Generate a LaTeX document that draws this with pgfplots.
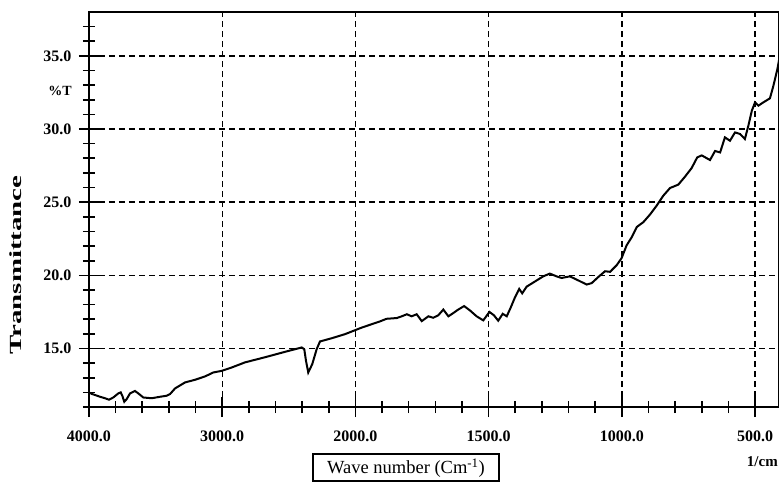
\documentclass[border=0pt]{standalone}
\usepackage{fontspec}
\setmainfont{Liberation Serif}
\usepackage{graphicx}
\usepackage{pgfplots}
\pgfplotsset{compat=1.18}
\usepackage{pgfplotstable}

\pgfplotstableread{
wn t
4000 12.0
3980 11.9
3917 11.7
3880 11.6
3850 11.5
3818 11.65
3780 11.93
3762 12.0
3750 11.77
3735 11.36
3717 11.54
3692 11.93
3655 12.1
3630 11.93
3592 11.65
3529 11.6
3467 11.7
3417 11.77
3392 11.88
3354 12.27
3279 12.68
3204 12.86
3129 13.09
3067 13.36
3004 13.47
2929 13.7
2829 14.05
2679 14.4
2529 14.77
2403 15.07
2384 14.95
2371 14.16
2354 13.36
2324 13.93
2291 14.95
2266 15.48
2178 15.7
2078 15.98
1976 16.43
1908 16.85
1883 17.03
1845 17.08
1826 17.2
1807 17.34
1789 17.2
1770 17.34
1751 16.87
1726 17.2
1708 17.1
1689 17.27
1670 17.66
1651 17.2
1632 17.43
1614 17.66
1592 17.9
1570 17.6
1545 17.2
1520 16.92
1497 17.5
1480 17.27
1464 16.9
1447 17.37
1432 17.2
1417 17.8
1401 18.5
1385 19.07
1374 18.77
1357 19.23
1326 19.58
1295 19.93
1270 20.12
1245 19.93
1226 19.82
1195 19.93
1163 19.65
1132 19.37
1113 19.47
1088 19.89
1063 20.28
1044 20.24
1019 20.7
1001 21.17
982 22.05
963 22.6
944 23.3
919 23.64
894 24.16
869 24.77
844 25.45
819 25.97
788 26.2
763 26.74
738 27.33
717 28.06
700 28.2
669 27.88
650 28.5
631 28.4
613 29.43
594 29.2
575 29.77
556 29.66
538 29.32
525 30.23
512 31.25
500 31.82
487 31.6
469 31.82
444 32.1
431 32.96
416 34.1
408 34.9
}\spectrum

\begin{document}
\begin{tikzpicture}
\begin{axis}[
  at={(0pt,0pt)}, anchor=south west,
  scale only axis, width=690pt, height=395pt,
  xmin=0, xmax=5.18, ymin=11, ymax=38,
  xtick={0,1,2,3,4,5},
  xticklabels={4000.0,3000.0,2000.0,1500.0,1000.0,500.0},
  minor xtick={0.2,0.4,0.6,0.8,1.2,1.4,1.6,1.8,2.2,2.4,2.6,2.8,3.2,3.4,3.6,3.8,4.2,4.4,4.6,4.8},
  ytick={15,20,25,30,35},
  yticklabels={15.0,20.0,25.0,30.0,35.0},
  minor ytick={11,12,13,14,16,17,18,19,21,22,23,24,26,27,28,29,31,32,33,34,36,37},
  tick align=center,
  tick pos=left,
  major tick length=20pt, minor tick length=12pt,
  grid=major,
  major grid style={black, line width=1.4pt, dash pattern=on 6pt off 4pt},
  axis line style={black, line width=2pt},
  tick style={black, line width=1.6pt},
  tick label style={font=\fontsize{16}{18}\selectfont\bfseries},
  yticklabel style={xshift=-4pt},
  xticklabel style={yshift=-10pt},
]
\addplot[black, line width=2pt] table[x expr={\thisrow{wn}>=2000 ? (4000-\thisrow{wn})/1000 : 2+(2000-\thisrow{wn})/500}, y=t]{\spectrum};
\end{axis}
\node[anchor=east, inner sep=0pt, font=\fontsize{14}{16}\selectfont\bfseries] at (-17pt,316pt) {\%T};
\node[rotate=90, inner sep=0pt, font=\fontsize{17}{19}\selectfont\bfseries] at (-73pt,142pt) {\scalebox{1.7}[1]{Transmittance}};
\draw[black, line width=1.5pt] (224pt,-47pt) rectangle (410pt,-74pt);
\node[inner sep=0pt, font=\fontsize{18.5}{20}\selectfont] at (317pt,-61pt) {Wave number (Cm\textsuperscript{-1})};
\node[anchor=east, inner sep=0pt, font=\fontsize{15}{17}\selectfont\bfseries] at (689pt,-55pt) {1/cm};
\pgfresetboundingbox
\useasboundingbox (-89pt,-76pt) rectangle (690pt,407pt);
\end{tikzpicture}
\end{document}
